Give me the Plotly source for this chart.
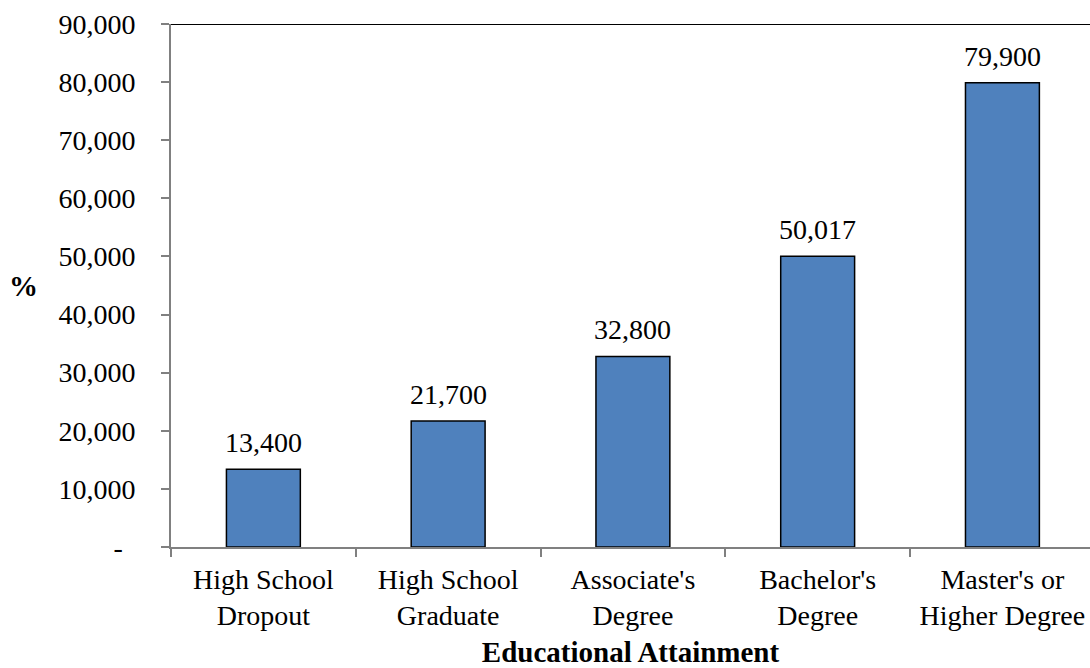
import plotly.graph_objects as go

categories = ["High School<br>Dropout", "High School<br>Graduate", "Associate's<br>Degree",
              "Bachelor's<br>Degree", "Master's or<br>Higher Degree"]
values = [13400, 21700, 32800, 50017, 79900]
value_labels = ["13,400", "21,700", "32,800", "50,017", "79,900"]
ytick_vals = [0, 10000, 20000, 30000, 40000, 50000, 60000, 70000, 80000, 90000]
ytick_text = ["-\u00a0\u2009", "10,000", "20,000", "30,000", "40,000", "50,000",
              "60,000", "70,000", "80,000", "90,000"]

FONT = "Liberation Serif"
fig = go.Figure()
fig.add_trace(go.Bar(
    x=categories, y=values, width=0.4,
    marker=dict(color="#4F81BD", line=dict(color="black", width=1.5)),
    hoverinfo="skip",
))

for c, v, t in zip(categories, values, value_labels):
    fig.add_annotation(x=c, y=v, text=t, showarrow=False, yanchor="bottom",
                       yshift=9, font=dict(family=FONT, size=28, color="black"))

fig.add_annotation(xref="paper", yref="paper", x=-0.161, y=0.5, text="<b>%</b>",
                   showarrow=False, xanchor="center", yanchor="middle",
                   font=dict(family=FONT, size=29, color="black"))

fig.add_shape(type="line", xref="paper", yref="y", x0=0, x1=1, y0=90000, y1=90000,
              line=dict(color="black", width=2))

fig.update_layout(
    width=1090, height=668,
    margin=dict(l=171, r=0, t=24, b=121),
    plot_bgcolor="white", paper_bgcolor="white",
    showlegend=False,
    font=dict(family=FONT, size=28, color="black"),
    xaxis=dict(
        type="category", range=[-0.5, 4.474], automargin=False,
        showline=True, linecolor="#808080", linewidth=2,
        ticks="outside", tickson="boundaries", ticklen=8, tickcolor="#808080", tickwidth=2,
        showgrid=False, tickfont=dict(family=FONT, size=28, color="black"),
        ticklabelstandoff=6,
        title=dict(text="<b>Educational Attainment</b>", standoff=22,
                   font=dict(family=FONT, size=29, color="black")),
    ),
    yaxis=dict(
        range=[0, 90000], tickvals=ytick_vals, ticktext=ytick_text, automargin=False,
        showline=True, linecolor="#808080", linewidth=2,
        ticks="outside", ticklen=8, tickcolor="#808080", tickwidth=2,
        showgrid=False, zeroline=False, ticklabelstandoff=20,
        tickfont=dict(family=FONT, size=28, color="black"),
    ),
)

fig.write_html("out.html", config={"displayModeBar": False},
               post_script="document.body.style.margin='0';document.body.style.overflow='hidden';")
